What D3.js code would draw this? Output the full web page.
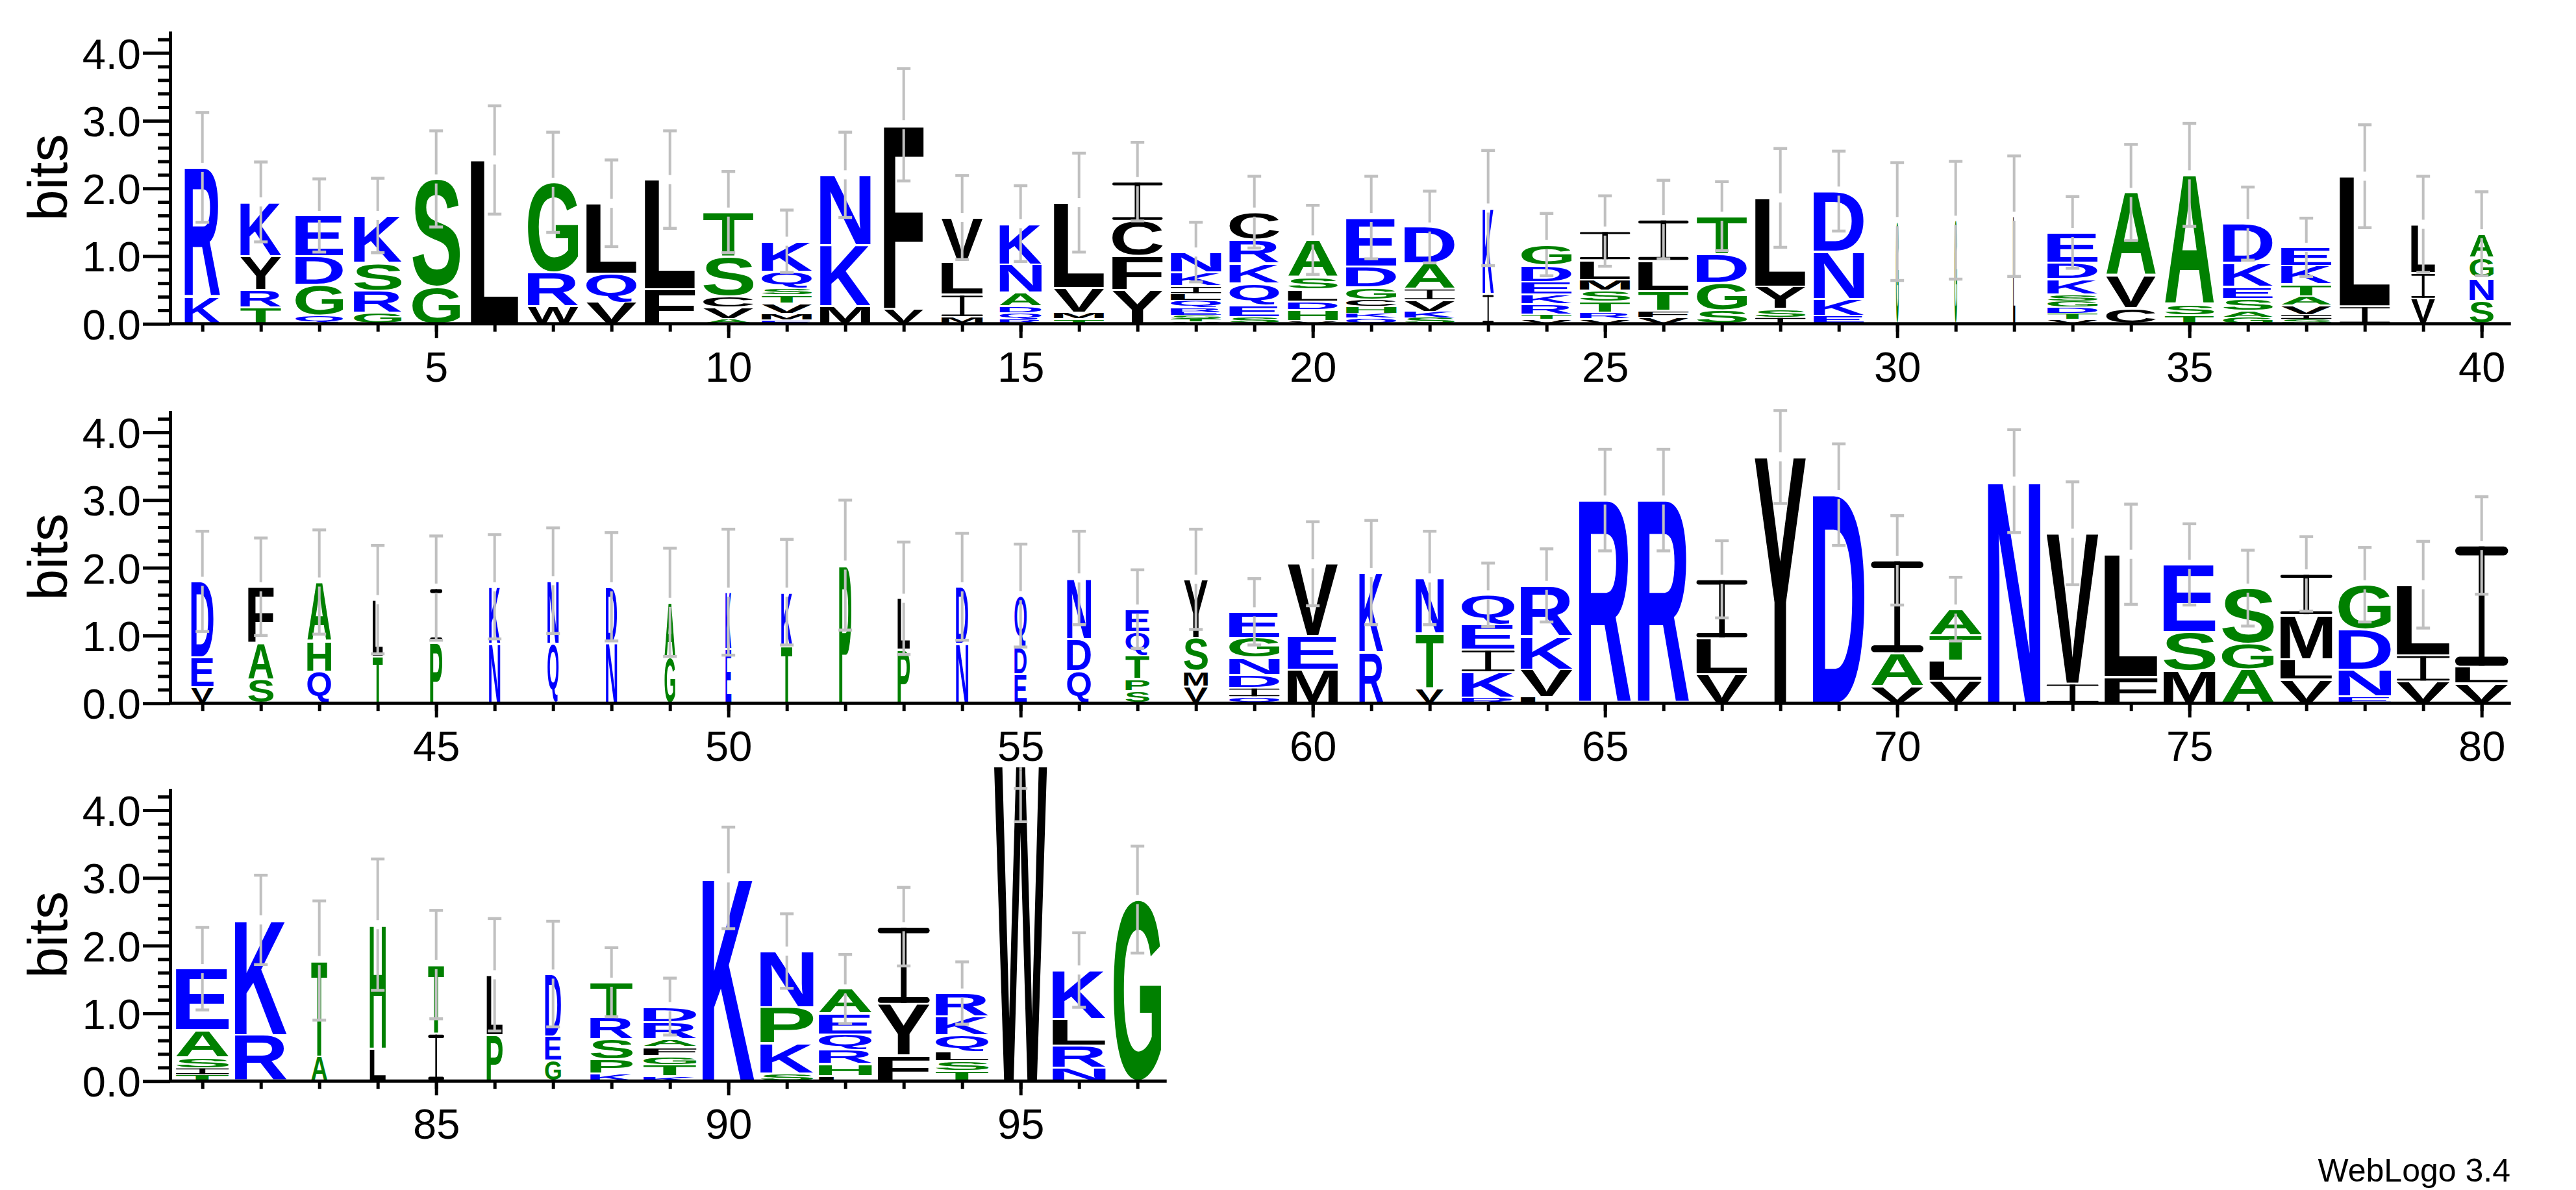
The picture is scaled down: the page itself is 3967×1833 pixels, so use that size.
<!DOCTYPE html>
<html>
<head>
<meta charset="utf-8">
<script src="https://cdn.jsdelivr.net/npm/d3@7"></script>
<style>
  body { margin: 0; background: #fff; }
  svg { display: block; }
</style>
</head>
<body>
<script>
// letters of each stack, bottom to top
const letters = [
  "KR", "TRYK", "QGDE", "GRSK", "GS", "L", "WRG", "VQL", "FL", "AVCST",
  "EMVTSQK", "MKN", "VF", "MILV", "RQDANK", "TMVL", "YFCI", "VTSERQLIKN", "SEQKRC", "VHDLSA",
  "QKHCGDE", "SKVIAD", "IK", "VTRKEDG", "VRTSMLI", "VFTLI", "SGDT", "ISYL", "EKND", "G",
  "G", "L", "VTDGSKDE", "CVA", "TSA", "GASEKD", "SIVATKE", "IL", "VIL", "SNGA",
  "VED", "SAF", "QHA", "TL", "PI", "NK", "QN", "ND", "GA", "EK",
  "TK", "P", "PL", "ND", "EDQ", "QDN", "SPTQE", "VMSY", "QIDNGE", "MEV",
  "RK", "VTN", "RKIEQ", "LVKR", "R", "R", "VLI", "Y", "D", "VAI",
  "VLTA", "N", "IV", "FL", "MSE", "AGS", "VLMI", "ENDG", "VIL", "VLI",
  "TISAE", "RK", "AT", "LH", "IT", "PL", "GED", "KPSRT", "KTGFARD", "K",
  "SKPN", "LHRQEA", "FYI", "TSLQKR", "W", "NRLK", "G"
];

// letter heights in bits, same order
const heights = [
  [.40, 1.91], [.24, .26, .50, .80], [.12, .46, .42, .60], [.16, .33, .41, .70], [.55, 1.59],
  [2.42], [.26, .50, 1.33], [.32, .42, 1.04], [.51, 1.62], [.07, .17, .17, .58, .66],
  [.05, .10, .15, .12, .10, .25, .45], [.26, .90, 1.04], [.22, 2.72], [.10, .33, .48, .66], [.06, .10, .10, .20, .42, .60],
  [.07, .10, .36, 1.26], [.50, .50, .52, .58], [.03, .04, .06, .05, .05, .12, .09, .12, .20, .30], [.10, .18, .32, .29, .35, .41], [.04, .16, .13, .18, .18, .55],
  [.09, .07, .09, .11, .18, .31, .72], [.09, .09, .17, .17, .37, .54], [.44, 1.27], [.07, .07, .15, .14, .19, .24, .31], [.07, .10, .16, .16, .16, .29, .43],
  [.09, .10, .29, .45, .61], [.20, .41, .42, .56], [.09, .13, .33, 1.31], [.12, .25, .70, .89], [1.51],
  [1.53], [1.59], [.07, .08, .10, .08, .10, .23, .24, .45], [.23, .48, 1.23], [.13, .16, 1.91],
  [.09, .10, .18, .18, .35, .58], [.07, .06, .14, .14, .18, .27, .27], [.26, 1.92], [.37, .38, .72], [.34, .33, .31, .35],
  [.24, .44, 1.12], [.35, .54, .83], [.47, .45, .87], [.69, .84], [.90, .80],
  [.88, .84], [.88, .93], [.90, .82], [.69, .80], [.80, .84],
  [.84, .80], [2.04], [.79, .76], [.88, .84], [.43, .40, .76],
  [.48, .47, .90], [.18, .18, .35, .34, .34], [.25, .23, .49, .86], [.09, .14, .19, .25, .30, .38], [.50, .49, 1.07],
  [.75, 1.18], [.22, .81, .82], [.08, .38, .33, .37, .44], [.09, .41, .49, .75], [3.00],
  [3.00], [.43, .53, .87], [3.64], [3.08], [.25, .49, 1.37],
  [.33, .30, .37, .39], [3.28], [.29, 2.22], [.39, 1.81], [.48, .57, 1.00],
  [.50, .38, .82], [.35, .30, .65, .61], [.10, .40, .59, .66], [.32, .39, 1.04], [.29, .25, 1.79],
  [.10, .09, .16, .40, .91], [.68, 1.70], [.36, 1.42], [.48, 1.83], [.70, 1.02],
  [.68, .89], [.30, .36, .92], [.11, .21, .30, .32, .52], [.07, .17, .13, .13, .12, .25, .23], [3.00],
  [.11, .45, .53, .83], [.07, .18, .21, .23, .31, .36], [.38, .76, 1.14], [.15, .14, .14, .25, .27, .35], [4.66],
  [.20, .32, .40, .72], [2.68]
];

// visible width of each stack (fraction of a full stack)
const widths = [
  .67, .77, .90, .90, .90, .90, .95, .95, .95, .95,
  .95, .95, .75, .78, .79, .95, .95, .95, .94, .94,
  .95, .95, .21, .95, .95, .95, .95, .95, .95, .05,
  .05, .04, .95, .94, .93, .94, .95, .95, .45, .45,
  .42, .48, .45, .19, .23, .21, .21, .21, .20, .11,
  .21, .23, .23, .23, .23, .45, .45, .45, .95, .95,
  .45, .53, 1.0, .98, .98, .97, .96, .97, .98, .99,
  .99, .99, .98, 1.0, .98, .98, .98, .99, 1.0, 1.0,
  1.0, .98, .30, .30, .30, .30, .30, .80, 1.0, .98,
  1.0, 1.0, .98, 1.0, 1.0, 1.0, .90
];

// error bar half length in bits
const errors = [
  .81, .59, .54, .55, .71, .80, .74, .64, .72, .60,
  .46, .63, .83, .62, .56, .73, .58, .44, .53, .51,
  .61, .53, .85, .46, .52, .58, .51, .73, .59, .87,
  .87, .89, .53, .71, .76, .54, .43, .76, .71, .62,
  .74, .72, .77, .80, .77, .77, .78, .80, .80, .93,
  .78, .96, .83, .79, .76, .69, .58, .74, .49, .62,
  .77, .69, .47, .54, .75, .75, .57, .69, .75, .66,
  .47, .76, .76, .74, .60, .56, .55, .55, .64, .72,
  .61, .66, .88, .97, .80, .83, .78, .51, .42, .75,
  .55, .51, .58, .46, .83, .55, .79
];

const rowStarts = [1, 41, 81];
const rowEnds = [40, 80, 97];
const yMajor = [0, 1, 2, 3, 4];

const width = 3967, height = 1833;
const baselines = [498.8, 1083.2, 1665.2];
const bitPx = 104.3;
const maxBits = Math.log2(20);
const axisX = 262;
const colStep = 90, firstCenter = 311.7, stackW = 81.5;
const errGray = "#c0c0c0";
const FONT = '"Liberation Sans", Arial, Helvetica, sans-serif';

const colorOf = c => "RKDENQ".includes(c) ? "#0000ff" : "SGHTAP".includes(c) ? "#008000" : "#000000";

const svg = d3.select("body").append("svg")
  .attr("width", width)
  .attr("height", height);

// ink boxes of the glyphs so each letter can be stretched into its box
const FS = 200;
const ctx = document.createElement("canvas").getContext("2d");
ctx.font = `bold ${FS}px ${FONT}`;
const metrics = {};
"ACDEFGHKLMNPQRSTVWY".split("").forEach(c => {
  const m = ctx.measureText(c);
  metrics[c] = {
    x0: -m.actualBoundingBoxLeft, x1: m.actualBoundingBoxRight,
    y0: -m.actualBoundingBoxAscent, y1: m.actualBoundingBoxDescent
  };
});

function drawGlyph(g, c, bx, by, bw, bh) {
  if (bh < 0.6 || bw < 0.5) return;
  const fill = colorOf(c);
  if (c === "I") {
    // serif I as drawn by the logo
    const bar = Math.max(1.5, bh * 0.075), stem = Math.max(2, bw * 0.11);
    g.append("rect").attr("x", bx).attr("y", by).attr("width", bw).attr("height", bar)
      .attr("rx", bar / 2).attr("fill", fill);
    g.append("rect").attr("x", bx).attr("y", by + bh - bar).attr("width", bw).attr("height", bar)
      .attr("rx", bar / 2).attr("fill", fill);
    g.append("rect").attr("x", bx + bw / 2 - stem / 2).attr("y", by).attr("width", stem).attr("height", bh)
      .attr("fill", fill);
    return;
  }
  const m = metrics[c];
  const sx = bw / (m.x1 - m.x0), sy = bh / (m.y1 - m.y0);
  g.append("text")
    .text(c)
    .attr("font-family", FONT)
    .attr("font-weight", "bold")
    .attr("font-size", FS)
    .attr("fill", fill)
    .attr("transform", `translate(${bx},${by}) scale(${sx},${sy}) translate(${-m.x0},${-m.y0})`);
}

rowStarts.forEach((start, r) => {
  const end = rowEnds[r];
  const n = end - start + 1;
  const x = d3.scaleLinear()
    .domain([start - 0.5, end + 0.5])
    .range([firstCenter - colStep / 2, firstCenter - colStep / 2 + n * colStep]);
  const y = d3.scaleLinear()
    .domain([0, maxBits])
    .range([baselines[r], baselines[r] - maxBits * bitPx]);

  const row = svg.append("g").attr("class", "row");

  // stacks
  const stacks = row.append("g").attr("class", "stacks");
  d3.range(start, end + 1).forEach(pos => {
    const i = pos - 1;
    const cx = x(pos);
    const bw = stackW * widths[i];
    let cum = 0;
    letters[i].split("").forEach((c, k) => {
      const h = heights[i][k];
      const yTop = y(cum + h), yBot = y(cum);
      const inset = (yBot - yTop) > 10 ? 1.5 : 0.3;
      drawGlyph(stacks, c, cx - bw / 2, yTop + inset, bw, yBot - yTop - 2 * inset);
      cum += h;
    });
  });

  // error bars (split around the top of the stack)
  const bars = row.append("g").attr("class", "errorbars")
    .attr("stroke", errGray).attr("fill", "none");
  d3.range(start, end + 1).forEach(pos => {
    const i = pos - 1;
    const cx = x(pos);
    const top = d3.sum(heights[i]);
    const e = errors[i];
    const gap = 7;
    const yTop = y(top), yLo = y(top - e);
    const hi = Math.min(top + e, maxBits), yHi = y(hi);
    bars.append("line").attr("x1", cx).attr("x2", cx)
      .attr("y1", yTop + gap).attr("y2", yLo).attr("stroke-width", 4);
    if (yHi < yTop - gap) {
      bars.append("line").attr("x1", cx).attr("x2", cx)
        .attr("y1", yTop - gap).attr("y2", yHi).attr("stroke-width", 4);
    } else {
      bars.append("line").attr("x1", cx).attr("x2", cx)
        .attr("y1", yTop + 3).attr("y2", yTop + gap).attr("stroke-width", 4);
    }
    [yLo, yHi].forEach(yy => {
      bars.append("line").attr("x1", cx - 10.5).attr("x2", cx + 10.5)
        .attr("y1", yy).attr("y2", yy).attr("stroke-width", 4.5);
    });
  });

  // y axis
  const yAxis = row.append("g")
    .attr("transform", `translate(${axisX},0)`)
    .call(d3.axisLeft(y).tickValues(yMajor).tickFormat(d3.format(".1f")).tickSize(42).tickSizeOuter(0));
  yAxis.select(".domain").attr("stroke-width", 5);
  yAxis.selectAll(".tick line").attr("stroke-width", 5);
  yAxis.selectAll(".tick text")
    .attr("font-family", FONT).attr("font-size", 65).attr("fill", "#000")
    .attr("dy", "0.36em");

  const yMinor = row.append("g")
    .attr("transform", `translate(${axisX},0)`)
    .call(d3.axisLeft(y).tickValues(d3.range(0.2, 4.25, 0.2).filter(v => Math.abs(v - Math.round(v)) > 0.01))
      .tickSize(19).tickFormat(""));
  yMinor.select(".domain").remove();
  yMinor.selectAll(".tick line").attr("stroke-width", 5);

  row.append("text")
    .text("bits")
    .attr("font-family", FONT)
    .attr("font-size", 86)
    .attr("text-anchor", "middle")
    .attr("transform", `translate(103,${y(maxBits / 2)}) rotate(-90)`);

  // x axis
  const xAxis = row.append("g")
    .attr("transform", `translate(0,${baselines[r]})`)
    .call(d3.axisBottom(x).tickValues(d3.range(start, end + 1)).tickFormat("").tickSize(12).tickSizeOuter(0));
  xAxis.select(".domain").attr("d", `M${axisX},0H${x.range()[1]}`).attr("stroke-width", 5);
  xAxis.selectAll(".tick line").attr("stroke-width", 5);

  const xMajor = row.append("g")
    .attr("transform", `translate(0,${baselines[r]})`)
    .call(d3.axisBottom(x).tickValues(d3.range(start, end + 1).filter(v => v % 5 === 0))
      .tickFormat(d3.format("d")).tickSize(22));
  xMajor.select(".domain").remove();
  xMajor.selectAll(".tick line").attr("stroke-width", 5);
  xMajor.selectAll(".tick text")
    .attr("font-family", FONT).attr("font-size", 65).attr("fill", "#000")
    .attr("y", 89).attr("dy", 0);
});

svg.append("text")
  .text("WebLogo 3.4")
  .attr("x", 3866)
  .attr("y", 1820)
  .attr("text-anchor", "end")
  .attr("font-family", FONT)
  .attr("font-size", 50);
</script>
</body>
</html>
